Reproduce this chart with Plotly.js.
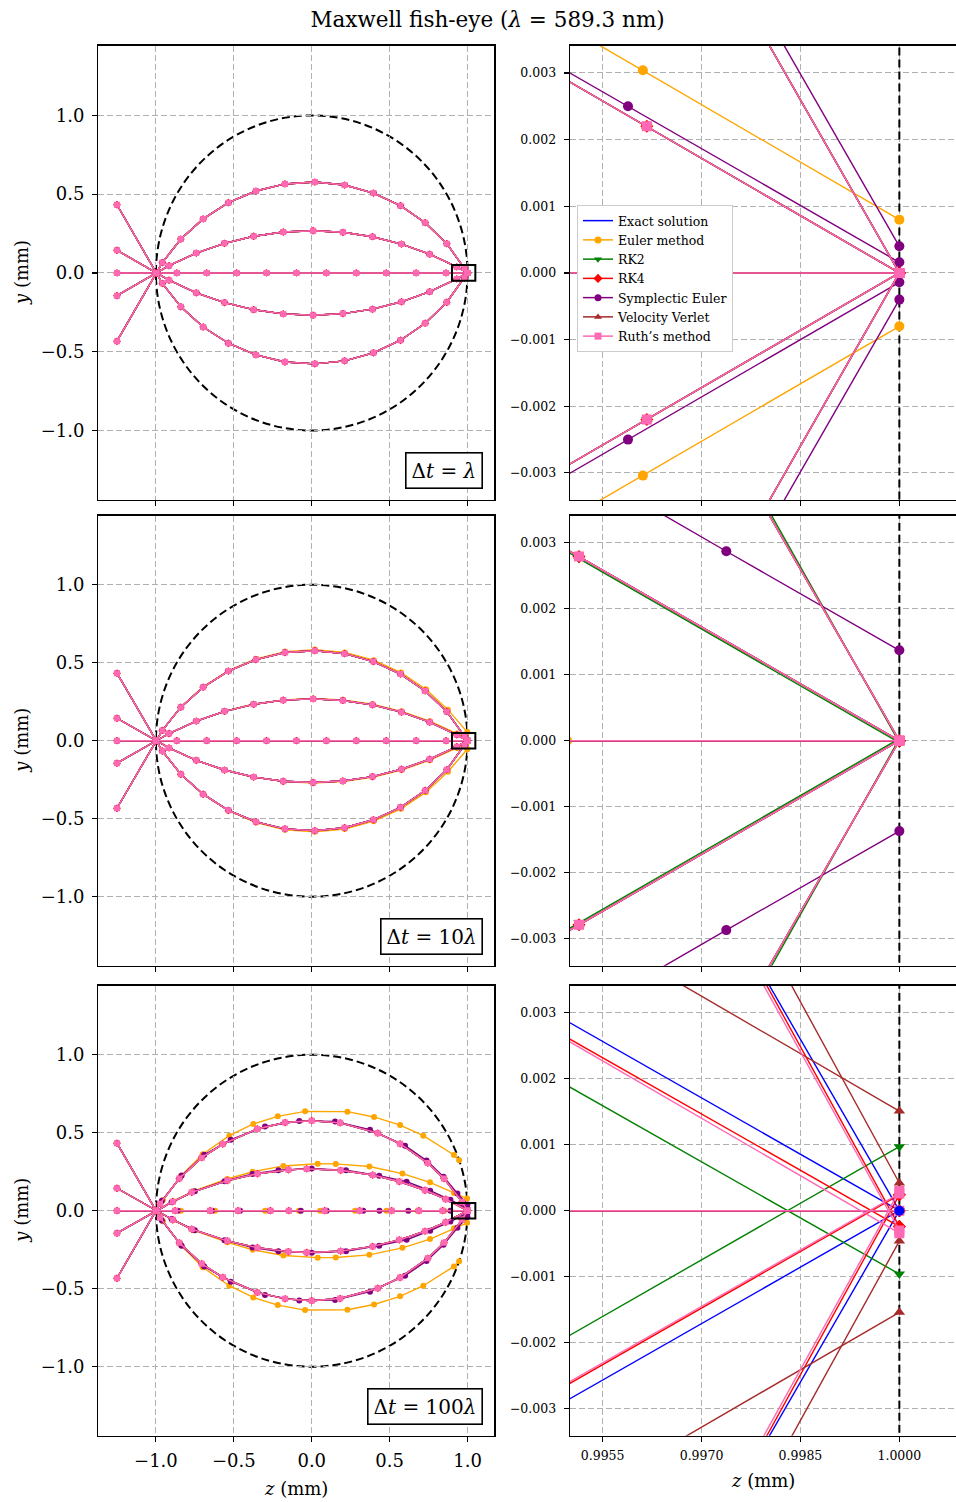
<!DOCTYPE html>
<html><head><meta charset="utf-8">
<script src="https://cdn.plot.ly/plotly-3.0.1.min.js"></script>
<style>html,body{margin:0;padding:0;background:#fff}#chart{width:956px;height:1502px}</style>
</head><body><div id="chart"></div>
<script>
// ---------------- methods ----------------
const methodNames = ['Exact solution','Euler method','RK2','RK4','Symplectic Euler','Velocity Verlet','Ruth\u2019s method'];
const methodColors = ['#0000ff','#ffa500','#008000','#ff0000','#800080','#a52a2a','#ff69b4'];
const methodSymbols = ['circle','circle','triangle-down','diamond','circle','triangle-up','square'];
const stepLabels = ['\u0394<i>t</i> = <i>\u03bb</i>','\u0394<i>t</i> = 10<i>\u03bb</i>','\u0394<i>t</i> = 100<i>\u03bb</i>'];
const lensRadius = 1.0;
const titleText = 'Maxwell fish-eye (<i>\u03bb</i> = 589.3 nm)';

// ---------------- left panels: marked points of each ray (z, y in mm) ----------------
// ray order: upper 60°, upper 30°, axial, lower 30°, lower 60°
// Δt = λ (also Δt = 10λ for all methods except Euler)
const zFine = [
  [-1.25,-1.0,-0.959,-0.840,-0.697,-0.535,-0.358,-0.172,0.020,0.211,0.396,0.570,0.728,0.867,0.981,1.0],
  [-1.25,-1.0,-0.916,-0.741,-0.560,-0.373,-0.183,0.009,0.200,0.390,0.576,0.757,0.931,1.0],
  [-1.25,-1.0,-0.866,-0.674,-0.482,-0.290,-0.098,0.094,0.286,0.478,0.670,0.862,1.0],
  [-1.25,-1.0,-0.916,-0.741,-0.560,-0.373,-0.183,0.009,0.200,0.390,0.576,0.757,0.931,1.0],
  [-1.25,-1.0,-0.959,-0.840,-0.697,-0.535,-0.358,-0.172,0.020,0.211,0.396,0.570,0.728,0.867,0.981,1.0]
];
const yFine = [
  [-0.433,0,0.066,0.215,0.343,0.446,0.520,0.565,0.577,0.558,0.507,0.427,0.319,0.186,0.032,0],
  [-0.144,0,0.046,0.126,0.188,0.233,0.260,0.268,0.258,0.230,0.183,0.119,0.038,0],
  [0,0,0,0,0,0,0,0,0,0,0,0,0],
  [0.144,0,-0.046,-0.126,-0.188,-0.233,-0.260,-0.268,-0.258,-0.230,-0.183,-0.119,-0.038,0],
  [0.433,0,-0.066,-0.215,-0.343,-0.446,-0.520,-0.565,-0.577,-0.558,-0.507,-0.427,-0.319,-0.186,-0.032,0]
];
// Euler, Δt = 10λ
const zEulerMid = [
  [-1.25,-1.0,-0.959,-0.840,-0.697,-0.535,-0.358,-0.172,0.020,0.212,0.398,0.573,0.733,0.874,0.9985],
  [-1.25,-1.0,-0.916,-0.741,-0.560,-0.373,-0.183,0.009,0.200,0.390,0.577,0.758,0.933,1.0],
  [-1.25,-1.0,-0.866,-0.674,-0.482,-0.290,-0.098,0.094,0.286,0.478,0.670,0.862,1.0],
  [-1.25,-1.0,-0.916,-0.741,-0.560,-0.373,-0.183,0.009,0.200,0.390,0.577,0.758,0.933,1.0],
  [-1.25,-1.0,-0.959,-0.840,-0.697,-0.535,-0.358,-0.172,0.020,0.212,0.398,0.573,0.733,0.874,0.9985]
];
const yEulerMid = [
  [-0.433,0,0.066,0.216,0.345,0.449,0.525,0.571,0.584,0.566,0.516,0.437,0.330,0.199,0.055],
  [-0.144,0,0.046,0.126,0.189,0.235,0.262,0.271,0.262,0.234,0.188,0.125,0.046,0.008],
  [0,0,0,0,0,0,0,0,0,0,0,0,0],
  [0.144,0,-0.046,-0.126,-0.189,-0.235,-0.262,-0.271,-0.262,-0.234,-0.188,-0.125,-0.046,-0.008],
  [0.433,0,-0.066,-0.216,-0.345,-0.449,-0.525,-0.571,-0.584,-0.566,-0.516,-0.437,-0.330,-0.199,-0.055]
];
// Δt = 100λ : Ruth (and the methods hidden under it)
const zCoarse = [
  [-1.25,-1.0,-0.974,-0.850,-0.706,-0.571,-0.349,-0.171,0.0,0.182,0.424,0.567,0.745,0.849,0.965,1.0],
  [-1.25,-1.0,-0.892,-0.770,-0.542,-0.349,-0.150,-0.032,0.186,0.391,0.562,0.727,0.860,1.0],
  [-1.25,-1.0,-0.877,-0.653,-0.473,-0.265,-0.147,0.083,0.308,0.513,0.688,0.840,1.0],
  [-1.25,-1.0,-0.892,-0.770,-0.542,-0.349,-0.150,-0.032,0.186,0.391,0.562,0.727,0.860,1.0],
  [-1.25,-1.0,-0.974,-0.850,-0.706,-0.571,-0.349,-0.171,0.0,0.182,0.424,0.567,0.745,0.849,0.965,1.0]
];
const yCoarse = [
  [-0.433,0,0.045,0.206,0.340,0.427,0.524,0.565,0.577,0.563,0.497,0.429,0.305,0.206,0.057,0],
  [-0.144,0,0.058,0.118,0.193,0.237,0.262,0.268,0.259,0.229,0.187,0.131,0.074,0],
  [0,0,0,0,0,0,0,0,0,0,0,0,0],
  [0.144,0,-0.058,-0.118,-0.193,-0.237,-0.262,-0.268,-0.259,-0.229,-0.187,-0.131,-0.074,0],
  [0.433,0,-0.045,-0.206,-0.340,-0.427,-0.524,-0.565,-0.577,-0.563,-0.497,-0.429,-0.305,-0.206,-0.057,0]
];
// Euler, Δt = 100λ
const zEulerCoarse = [
  [-1.25,-1.0,-0.955,-0.840,-0.700,-0.529,-0.375,-0.218,-0.043,0.229,0.400,0.567,0.716,0.913,0.946],
  [-1.25,-1.0,-0.890,-0.760,-0.542,-0.379,-0.182,0.038,0.154,0.370,0.582,0.759,0.913,0.997],
  [-1.25,-1.0,-0.840,-0.620,-0.475,-0.300,-0.082,0.054,0.278,0.480,0.680,0.850,1.0],
  [-1.25,-1.0,-0.890,-0.760,-0.542,-0.379,-0.182,0.038,0.154,0.370,0.582,0.759,0.913,0.997],
  [-1.25,-1.0,-0.955,-0.840,-0.700,-0.529,-0.375,-0.218,-0.043,0.229,0.400,0.567,0.716,0.913,0.946]
];
const yEulerCoarse = [
  [-0.433,0,0.068,0.222,0.362,0.481,0.556,0.605,0.637,0.635,0.601,0.549,0.481,0.357,0.324],
  [-0.144,0,0.061,0.125,0.203,0.250,0.287,0.301,0.300,0.283,0.238,0.182,0.113,0.078],
  [0,0,0,0,0,0,0,0,0,0,0,0,0],
  [0.144,0,-0.061,-0.125,-0.203,-0.250,-0.287,-0.301,-0.300,-0.283,-0.238,-0.182,-0.113,-0.078],
  [0.433,0,-0.068,-0.222,-0.362,-0.481,-0.556,-0.605,-0.637,-0.635,-0.601,-0.549,-0.481,-0.357,-0.324]
];
// Symplectic Euler, Δt = 100λ
const zSympCoarse = [
  [-1.25,-1.0,-0.962,-0.835,-0.690,-0.520,-0.300,-0.080,0.150,0.374,0.599,0.737,0.846,0.935,0.9992],
  [-1.25,-1.0,-0.900,-0.750,-0.560,-0.380,-0.214,0.000,0.220,0.433,0.609,0.760,0.890,0.9999],
  [-1.25,-1.0,-0.860,-0.640,-0.460,-0.270,-0.070,0.096,0.330,0.435,0.620,0.890,1.0],
  [-1.25,-1.0,-0.900,-0.750,-0.560,-0.380,-0.214,0.000,0.220,0.433,0.609,0.760,0.890,0.9999],
  [-1.25,-1.0,-0.962,-0.835,-0.690,-0.520,-0.300,-0.080,0.150,0.374,0.599,0.737,0.846,0.935,0.9992]
];
const ySympCoarse = [
  [-0.433,0,0.063,0.225,0.358,0.455,0.540,0.575,0.572,0.519,0.417,0.322,0.218,0.110,0.040],
  [-0.144,0,0.054,0.125,0.189,0.236,0.260,0.270,0.260,0.224,0.186,0.128,0.070,0.014],
  [0,0,0,0,0,0,0,0,0,0,0,0,0],
  [0.144,0,-0.054,-0.125,-0.189,-0.236,-0.260,-0.270,-0.260,-0.224,-0.186,-0.128,-0.070,-0.014],
  [0.433,0,-0.063,-0.225,-0.358,-0.455,-0.540,-0.575,-0.572,-0.519,-0.417,-0.322,-0.218,-0.110,-0.040]
];

// ---------------- right panels: ray ends near the image point (z, y in mm) ----------------
const tzExact1 = [[0.9974,1.0],[0.994,0.99617,1.0],[0.994,1.0],[0.994,0.99617,1.0],[0.9974,1.0]];
const tyExact1 = [[0.0045,0],[0.00344,0.0022,0],[0,0],[-0.00344,-0.0022,0],[-0.0045,0]];
const tzEuler1 = [[0.9974,1.0],[0.994,0.99611,1.0],[0.994,1.0],[0.994,0.99611,1.0],[0.9974,1.0]];
const tyEuler1 = [[0.0095,0.005],[0.00425,0.00304,0.0008],[0,0],[-0.00425,-0.00304,-0.0008],[-0.0095,-0.005]];
const tzSymp1 = [[0.99762,1.0],[0.994,0.995884,1.0],[0.994,1.0],[0.994,0.995884,1.0],[0.99762,1.0]];
const tySymp1 = [[0.0045,0.0004],[0.00357,0.0025,0.00016],[0,0],[-0.00358,-0.0025,-0.00014],[-0.0045,-0.0004]];

const tzExact2 = [[0.9974,1.0],[0.994,0.995141,1.0],[0.994,1.0],[0.994,0.995141,1.0],[0.9974,1.0]];
const tyExact2 = [[0.0045,0],[0.00345,0.00279,0],[0,0],[-0.00345,-0.00279,0],[-0.0045,0]];
const tzRk2_2 = [[0.99745,1.0],[0.994,0.995141,1.0],[0.994,1.0],[0.994,0.995141,1.0],[0.99745,1.0]];
const tyRk2_2 = [[0.0045,-0.00003],[0.00342,0.00276,-0.00003],[0,0],[-0.00342,-0.00276,0.00003],[-0.0045,0.00003]];
const tzSymp2 = [[0.9997,1.0],[0.994,0.997375,1.0],[0.994,1.0],[0.994,0.997375,1.0],[0.9997,1.0]];
const tySymp2 = [[0.0045,0.004],[0.00482,0.00287,0.00137],[0,0],[-0.00482,-0.00287,-0.00137],[-0.0045,-0.004]];
const tzEuler2 = [[0.998,0.9985],[0.994,1.0],[0.994,0.99496,1.0],[0.994,1.0],[0.998,0.9985]];
const tyEuler2 = [[0.06,0.055],[0.01145,0.008],[0,0,0],[-0.01145,-0.008],[-0.06,-0.055]];

const tzExact3 = [[0.9974,1.0],[0.994,1.0],[0.994,1.0],[0.994,1.0],[0.9974,1.0]];
const tyExact3 = [[0.0045,0],[0.00342,0],[0,0],[-0.00342,0],[-0.0045,0]];
const tzRk4_3 = [[0.99739,1.0],[0.994,1.0],[0.994,1.0],[0.994,1.0],[0.99739,1.0]];
const tyRk4_3 = [[0.0045,-0.00024],[0.00317,-0.00024],[0,0],[-0.00319,0.00024],[-0.0045,0.00024]];
const tzRuth3 = [[0.99734,1.0],[0.994,1.0],[0.994,1.0],[0.994,1.0],[0.99734,1.0]];
const tyRuth3 = [[0.0045,-0.0003],[0.00314,-0.00034],[0,0],[-0.00316,0.00026],[-0.0045,0.0003]];
const tzVv3 = [[0.99777,1.0],[0.994,1.0],[0.994,1.0],[0.994,1.0],[0.99777,1.0]];
const tyVv3 = [[0.0045,0.00042],[0.00499,0.00151],[0,0],[-0.00502,-0.00154],[-0.0045,-0.00046]];
const tzRk2_3 = [[0.9975,1.0],[0.994,1.0],[0.994,1.0],[0.994,1.0],[0.9975,1.0]];
const tyRk2_3 = [[0.0088,0.0045],[0.00244,-0.00096],[0,0],[-0.00246,0.00097],[-0.0088,-0.0045]];
const tzAxialOnly3 = [null,null,[0.994,1.0],null,null];
const tyAxialOnly3 = [null,null,[0,0],null,null];

// ---------------- mapping: row -> method -> data ----------------
const leftZ = [
  [zFine,zFine,zFine,zFine,zFine,zFine,zFine],
  [zFine,zEulerMid,zFine,zFine,zFine,zFine,zFine],
  [zCoarse,zEulerCoarse,zCoarse,zCoarse,zSympCoarse,zCoarse,zCoarse]
];
const leftY = [
  [yFine,yFine,yFine,yFine,yFine,yFine,yFine],
  [yFine,yEulerMid,yFine,yFine,yFine,yFine,yFine],
  [yCoarse,yEulerCoarse,yCoarse,yCoarse,ySympCoarse,yCoarse,yCoarse]
];
const tailZ = [
  [tzExact1,tzEuler1,tzExact1,tzExact1,tzSymp1,tzExact1,tzExact1],
  [tzExact2,tzEuler2,tzRk2_2,tzExact2,tzSymp2,tzExact2,tzExact2],
  [tzExact3,tzAxialOnly3,tzRk2_3,tzRk4_3,tzAxialOnly3,tzVv3,tzRuth3]
];
const tailY = [
  [tyExact1,tyEuler1,tyExact1,tyExact1,tySymp1,tyExact1,tyExact1],
  [tyExact2,tyEuler2,tyRk2_2,tyExact2,tySymp2,tyExact2,tyExact2],
  [tyExact3,tyAxialOnly3,tyRk2_3,tyRk4_3,tyAxialOnly3,tyVv3,tyRuth3]
];
const exactDotOnTop = [false,false,true];

// ---------------- geometry of the page ----------------
const FONT = 'DejaVu Serif, serif';
const W = 956, H = 1502;
const xDomL = [0.1028, 0.5171], xDomR = [0.5962, 0.9995];
const yDoms = [[0.66698, 0.96957],[0.35706, 0.65666],[0.04414, 0.34374]];
const rangeXL = [-1.37, 1.172], rangeYL = [-1.4423, 1.4423];
const rangeXR = [0.995004, 1.000852], rangeYR = [-0.003409, 0.003409];

function axId(p){ return p === 0 ? '' : String(p+1); }

const traces = [];
function pushRay(zs, ys, m, p, msize){
  traces.push({type:'scatter', x:zs, y:ys, xaxis:'x'+axId(p), yaxis:'y'+axId(p),
    mode: m === 0 ? 'lines' : 'lines+markers',
    line:{color:methodColors[m], width:1.4},
    marker:{color:methodColors[m], symbol:methodSymbols[m], size:msize, line:{width:0}},
    showlegend:false, hoverinfo:'skip', cliponaxis:true});
}
function pushExactDot(r){
  const zs = tailZ[r][0][2], ys = tailY[r][0][2];
  traces.push({type:'scatter', x:[zs[zs.length-1]], y:[ys[ys.length-1]], xaxis:'x'+axId(2*r+1), yaxis:'y'+axId(2*r+1),
    mode:'markers', marker:{color:methodColors[0], symbol:'circle', size:10}, showlegend:false, hoverinfo:'skip'});
}
for (let r = 0; r < 3; r++){
  // lens boundary seen in the zoomed panel (r = R is a vertical line at this scale)
  traces.push({type:'scatter', x:[lensRadius, lensRadius], y:[2*rangeYR[0], 2*rangeYR[1]],
    xaxis:'x'+axId(2*r+1), yaxis:'y'+axId(2*r+1), mode:'lines',
    line:{color:'black', width:2, dash:'8px,4px'}, showlegend:false, hoverinfo:'skip'});
  for (let m = 0; m < methodNames.length; m++){
    if (m === 6 && !exactDotOnTop[r]) pushExactDot(r);
    for (let k = 0; k < 5; k++){
      pushRay(leftZ[r][m][k], leftY[r][m][k], m, 2*r, 6);
      if (tailZ[r][m][k]) pushRay(tailZ[r][m][k], tailY[r][m][k], m, 2*r+1, 10);
    }
  }
  if (exactDotOnTop[r]) pushExactDot(r);
}
// legend entries
for (let m = 0; m < methodNames.length; m++){
  traces.push({type:'scatter', x:[null], y:[null], xaxis:'x2', yaxis:'y2', name:methodNames[m],
    mode: m === 0 ? 'lines' : 'lines+markers',
    line:{color:methodColors[m], width:1.5}, marker:{color:methodColors[m], symbol:methodSymbols[m], size:7},
    showlegend:true, hoverinfo:'skip'});
}

function baseAxis(){
  return {showline:true, mirror:true, linecolor:'black', linewidth:1.3, ticks:'outside', ticklen:5, tickwidth:1.1,
    tickcolor:'black', showgrid:true, gridcolor:'#b0b0b0', gridwidth:1, griddash:'6px,3px', zeroline:false,
    fixedrange:true, automargin:false};
}
const layout = {
  width:W, height:H, margin:{l:0,r:0,t:0,b:0}, paper_bgcolor:'white', plot_bgcolor:'white',
  font:{family:FONT, color:'black'},
  title:{text:titleText, x:0.51, xanchor:'center', y:1-19/H, yanchor:'middle', font:{size:21.5, family:FONT}},
  showlegend:true,
  legend:{x:577/W, y:1-205/H, xanchor:'left', yanchor:'top', bgcolor:'white', bordercolor:'#cccccc', borderwidth:1,
    font:{size:12.5, family:FONT}, itemwidth:30, tracegroupgap:0},
  shapes:[], annotations:[]
};
for (let r = 0; r < 3; r++){
  const pL = 2*r, pR = 2*r+1;
  const xl = Object.assign(baseAxis(), {domain:xDomL, range:rangeXL, anchor:'y'+axId(pL),
    tickvals:[-1,-0.5,0,0.5,1], tickformat:'.1f', showticklabels:r===2, tickfont:{size:18, family:FONT}, ticklabelstandoff:3});
  const yl = Object.assign(baseAxis(), {domain:yDoms[r], range:rangeYL, anchor:'x'+axId(pL),
    tickvals:[-1,-0.5,0,0.5,1], tickformat:'.1f', tickfont:{size:18, family:FONT}, ticklabelstandoff:4});
  const xr = Object.assign(baseAxis(), {domain:xDomR, range:rangeXR, anchor:'y'+axId(pR),
    tickvals:[0.9955,0.997,0.9985,1.0], tickformat:'.4f', showticklabels:r===2, tickfont:{size:12.5, family:FONT}, ticklabelstandoff:3});
  const yr = Object.assign(baseAxis(), {domain:yDoms[r], range:rangeYR, anchor:'x'+axId(pR),
    tickvals:[-0.003,-0.002,-0.001,0,0.001,0.002,0.003], tickformat:'.3f', tickfont:{size:12.5, family:FONT}, ticklabelstandoff:5});
  layout['xaxis'+axId(pL)] = xl; layout['yaxis'+axId(pL)] = yl;
  layout['xaxis'+axId(pR)] = xr; layout['yaxis'+axId(pR)] = yr;

  layout.shapes.push({type:'circle', xref:'x'+axId(pL), yref:'y'+axId(pL), x0:-lensRadius, x1:lensRadius, y0:-lensRadius, y1:lensRadius,
    line:{color:'black', width:2, dash:'8px,4px'}, layer:'below'});
  layout.shapes.push({type:'rect', xref:'x'+axId(pL), yref:'y'+axId(pL), x0:0.9, x1:1.05, y0:-0.05, y1:0.05,
    line:{color:'black', width:2}, layer:'above'});

  layout.annotations.push({xref:'x'+axId(pL)+' domain', yref:'y'+axId(pL)+' domain', x:0.972, y:0.024, xanchor:'right', yanchor:'bottom',
    text:stepLabels[r], showarrow:false, font:{size:20, family:FONT}, bgcolor:'white', bordercolor:'black', borderwidth:1.6, borderpad:5});
  const yc = (yDoms[r][0] + yDoms[r][1]) / 2;
  layout.annotations.push({xref:'paper', yref:'paper', x:22/W, y:yc, xanchor:'center', yanchor:'middle', textangle:-90,
    text:'<i>y</i> (mm)', showarrow:false, font:{size:18, family:FONT}});
}
layout.annotations.push({xref:'paper', yref:'paper', x:296/W, y:1-1488/H, xanchor:'center', yanchor:'middle',
  text:'<i>z</i> (mm)', showarrow:false, font:{size:18, family:FONT}});
layout.annotations.push({xref:'paper', yref:'paper', x:763/W, y:1-1480/H, xanchor:'center', yanchor:'middle',
  text:'<i>z</i> (mm)', showarrow:false, font:{size:18, family:FONT}});

Plotly.newPlot('chart', traces, layout, {staticPlot:true, displayModeBar:false});
</script></body></html>
